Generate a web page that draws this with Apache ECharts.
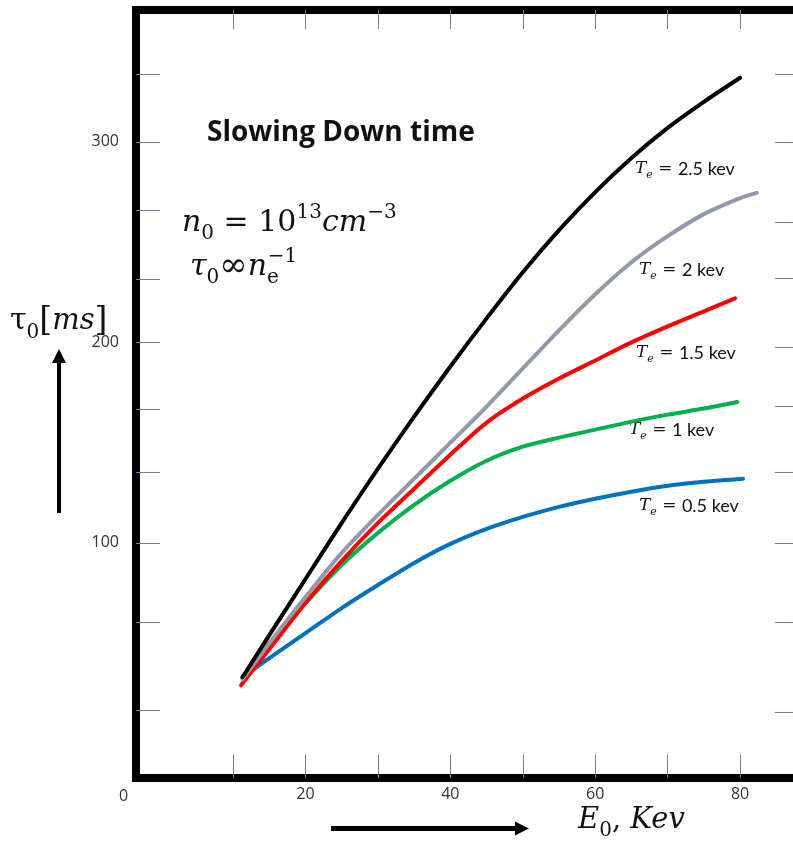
<!DOCTYPE html>
<html><head><meta charset="utf-8">
<script src="https://cdn.jsdelivr.net/npm/echarts@6/dist/echarts.min.js"></script>
<style>html,body{margin:0;padding:0;background:#fff}#c{width:793px;height:847px}</style>
</head><body><div id="c"></div>
<script>
// ---- data ----
const xTe25 = [11.3, 15, 20, 25, 30, 35, 40, 45, 50, 55, 60, 65, 70, 75, 80];
const yTe25 = [33, 54, 82, 110, 137, 163, 188, 212, 235, 256, 275, 292, 307, 320, 332];
const xTe2  = [11.3, 15, 20, 25, 30, 35, 40, 45, 50, 55, 60, 65, 70, 75, 80, 82.3];
const yTe2  = [32, 50, 73, 95, 114, 132, 150, 168, 187, 206, 224, 240, 253, 264, 272, 274.6];
const xTe15 = [11.1, 15, 20, 25, 30, 35, 40, 45, 50, 55, 60, 65, 70, 75, 79.3];
const yTe15 = [29, 47, 70, 91, 110, 127, 144, 160, 172, 182, 191, 200, 208, 215.5, 222];
const xTe1  = [11.3, 15, 20, 25, 30, 35, 40, 45, 50, 55, 60, 65, 70, 75, 79.6];
const yTe1  = [33, 50, 70, 89, 105, 119, 131, 141, 148, 152.5, 156.5, 160.5, 164, 167, 170.3];
const xTe05 = [11.3, 15, 20, 25, 30, 35, 40, 45, 50, 55, 60, 65, 70, 75, 80.4];
const yTe05 = [33, 42.5, 55, 67.5, 79, 90, 99.5, 107, 113, 118, 122, 125.5, 128.5, 130.5, 132];
const xTickValues = [10, 20, 30, 40, 50, 60, 70, 80];
const xLabelValues = [20, 40, 60, 80];
const yLeftTickValues = [16.7, 60.6, 100, 135.4, 166.8, 200.2, 231.7, 266, 300, 333.9];
const yRightTickValues = [15.7, 60.6, 100, 135.4, 168.3, 197.8, 232, 260, 300, 333.9];
const yLabelValues = [100, 200, 300];
const seriesNames = ['Te = 2.5 kev', 'Te = 2 kev', 'Te = 1.5 kev', 'Te = 1 kev', 'Te = 0.5 kev'];
const seriesTeValues = ['2.5', '2', '1.5', '1', '0.5'];

const pairs = (xs, ys) => xs.map((x, i) => [x, ys[i]]);
const seriesData = [pairs(xTe25, yTe25), pairs(xTe2, yTe2), pairs(xTe15, yTe15), pairs(xTe1, yTe1), pairs(xTe05, yTe05)];
const colors = ['#000000', '#9299ab', '#ff0000', '#00b050', '#0070c0'];

const tickColor = '#7676b0';
const serif = '"DejaVu Serif", "Liberation Serif", serif';
const sans = 'Lato, "Open Sans", sans-serif';

const chart = echarts.init(document.getElementById('c'), null, {renderer: 'canvas'});

const teLabelPos = [[635, 160], [639, 261], [636, 344], [629, 421], [639, 497]];

const graphics = [];
// corner "0" label
graphics.push({type: 'text', left: 119, top: 788, style: {text: '0', font: '16px "Open Sans"', fill: '#333'}});
// title
graphics.push({type: 'text', left: 207, top: 119, style: {text: 'Slowing Down time', font: 'bold 28px "Open Sans"', fill: '#111'}});
// n0 = 10^13 cm^-3
graphics.push({type: 'text', left: 182, top: 203, style: {
  text: '{i|n}{sub|0}{r| = 10}{sup|13}{i|cm}{sup|−3}',
  rich: {
    i: {font: 'italic 30px ' + serif, fill: '#111', lineHeight: 41, verticalAlign: 'middle'},
    r: {font: '30px ' + serif, fill: '#111', lineHeight: 41, verticalAlign: 'middle'},
    sub: {font: '20px ' + serif, fill: '#111', lineHeight: 20, verticalAlign: 'bottom'},
    sup: {font: '20px ' + serif, fill: '#111', lineHeight: 20, verticalAlign: 'top'}
  }}});
// tau0 ∝ ne^-1
graphics.push({type: 'text', left: 190, top: 247, style: {
  text: '{i|τ}{sub|0}{r|∞}{i|n}{sub|e}{supr|−1}',
  rich: {
    i: {font: 'italic 30px ' + serif, fill: '#111', lineHeight: 41, verticalAlign: 'middle'},
    r: {font: '34px ' + serif, fill: '#111', lineHeight: 41, verticalAlign: 'middle'},
    sub: {font: '20px ' + serif, fill: '#111', lineHeight: 20, verticalAlign: 'bottom'},
    supr: {font: '20px ' + serif, fill: '#111', lineHeight: 20, verticalAlign: 'top', padding: [0, 0, 0, -11]}
  }}});
// y axis name tau0[ms]
graphics.push({type: 'text', left: 10, top: 305, style: {
  text: '{r|τ}{sub|0}{b|[}{i|ms}{b|]}',
  rich: {
    r: {font: '30px ' + serif, fill: '#111', lineHeight: 42, verticalAlign: 'middle'},
    b: {font: '33px ' + serif, fill: '#111', lineHeight: 42, verticalAlign: 'middle'},
    i: {font: 'italic 29px ' + serif, fill: '#111', lineHeight: 42, verticalAlign: 'middle'},
    sub: {font: '20px ' + serif, fill: '#111', lineHeight: 20, verticalAlign: 'bottom'}
  }}});
// x axis name E0, Kev
graphics.push({type: 'text', left: 578, top: 806, style: {
  text: '{i|E}{sub|0}{r|, }{i|Kev}',
  rich: {
    r: {font: '29px ' + serif, fill: '#111', lineHeight: 40, verticalAlign: 'middle'},
    i: {font: 'italic 29px ' + serif, fill: '#111', lineHeight: 40, verticalAlign: 'middle'},
    sub: {font: '20px ' + serif, fill: '#111', lineHeight: 20, verticalAlign: 'bottom'}
  }}});
// up arrow
graphics.push({type: 'rect', shape: {x: 57, y: 360, width: 4, height: 153}, style: {fill: '#000'}});
graphics.push({type: 'polygon', shape: {points: [[52, 363], [66, 363], [59, 349]]}, style: {fill: '#000'}});
// right arrow
graphics.push({type: 'rect', shape: {x: 331, y: 826, width: 187, height: 5}, style: {fill: '#000'}});
graphics.push({type: 'polygon', shape: {points: [[515, 821.5], [515, 835.5], [529, 828.5]]}, style: {fill: '#000'}});
// Te labels
seriesTeValues.forEach((v, k) => {
  graphics.push({type: 'text', left: teLabelPos[k][0], top: teLabelPos[k][1], style: {
    text: '{t|T}{s|e}{r| = }{n|' + v + ' kev}',
    rich: {
      t: {font: 'italic 17px ' + serif, fill: '#111', lineHeight: 24, verticalAlign: 'middle'},
      s: {font: 'italic 11px ' + serif, fill: '#111', lineHeight: 11, verticalAlign: 'bottom'},
      r: {font: '17px ' + serif, fill: '#111', lineHeight: 24, verticalAlign: 'middle'},
      n: {font: '18px ' + sans, fill: '#111', lineHeight: 24, verticalAlign: 'middle'}
    }}});
});

const axisLineStyle = {color: '#000', width: 8, cap: 'square'};

chart.setOption({
  animation: false,
  backgroundColor: '#fff',
  grid: {left: 136, right: 0, top: 10, bottom: 69.5, containLabel: false},
  xAxis: [
    {type: 'value', min: -3.4, max: 87.3, position: 'bottom',
     axisLine: {show: true, onZero: false, lineStyle: axisLineStyle},
     axisTick: {show: true, inside: true, length: 23, customValues: xTickValues, lineStyle: {color: tickColor, width: 1}},
     axisLabel: {show: true, customValues: xLabelValues, margin: 9, fontSize: 16, color: '#333', fontFamily: 'Open Sans'},
     splitLine: {show: false}},
    {type: 'value', min: -3.4, max: 87.3, position: 'top',
     axisLine: {show: true, onZero: false, lineStyle: axisLineStyle},
     axisTick: {show: true, inside: true, length: 19, customValues: xTickValues, lineStyle: {color: tickColor, width: 1}},
     axisLabel: {show: false}, splitLine: {show: false}}
  ],
  yAxis: [
    {type: 'value', min: -17, max: 365.8, position: 'left',
     axisLine: {show: true, onZero: false, lineStyle: axisLineStyle},
     axisTick: {show: true, inside: true, length: 24, customValues: yLeftTickValues, lineStyle: {color: tickColor, width: 1}},
     axisLabel: {show: true, customValues: yLabelValues, margin: 17, fontSize: 16, color: '#333', fontFamily: 'Open Sans'},
     splitLine: {show: false}},
    {type: 'value', min: -17, max: 365.8, position: 'right',
     axisLine: {show: false, onZero: false},
     axisTick: {show: true, inside: true, length: 18, customValues: yRightTickValues, lineStyle: {color: tickColor, width: 1}},
     axisLabel: {show: false}, splitLine: {show: false}}
  ],
  series: seriesData.map((d, k) => ({
    name: seriesNames[k], type: 'line', data: d, smooth: 0.3, showSymbol: false, symbol: 'none',
    xAxisIndex: 0, yAxisIndex: 0, z: 5 - k,
    lineStyle: {color: colors[k], width: 4, cap: 'round'}
  })),
  graphic: graphics
});
</script></body></html>
